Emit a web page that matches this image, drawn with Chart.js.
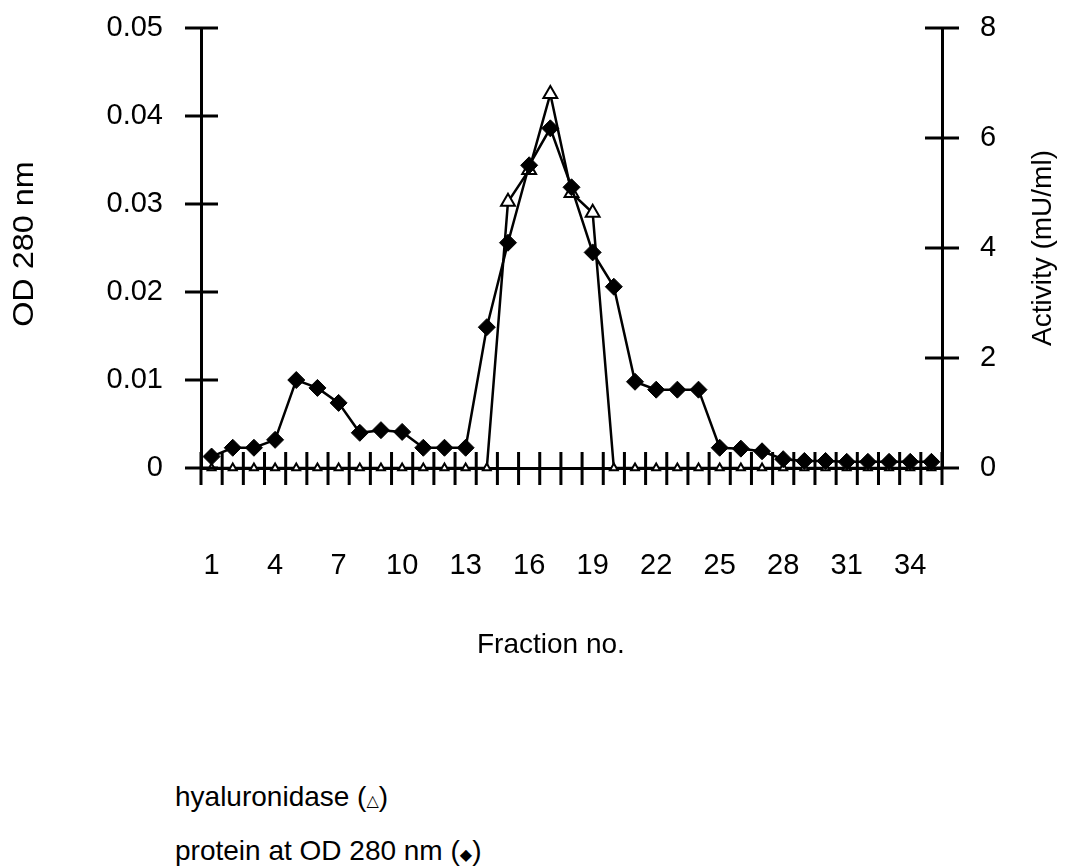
<!DOCTYPE html>
<html>
<head>
<meta charset="utf-8">
<script src="https://cdn.jsdelivr.net/npm/chart.js@4"></script>
<style>
  html, body { margin: 0; padding: 0; background: #fff; }
  #wrap { position: relative; width: 1080px; height: 868px; }
  #chart { position: absolute; left: 0; top: 0; }
  .legend { position: absolute; left: 175px; font-family: "Liberation Sans", Arial, sans-serif; font-size: 28px; line-height: 30px; color: #000; }
  .legend .sym { font-family: "DejaVu Sans", sans-serif; font-size: 16px; }
</style>
</head>
<body>
<div id="wrap">
  <canvas id="chart" width="1080" height="700"></canvas>
  <div class="legend" style="top:782px">hyaluronidase (<span class="sym">△</span>)</div>
  <div class="legend" style="top:836px">protein at OD 280 nm (<span class="sym">◆</span>)</div>
</div>
<script>
// fraction numbers (x categories)
const fractions = ["1", "2", "3", "4", "5", "6", "7", "8", "9", "10",
  "11", "12", "13", "14", "15", "16", "17", "18", "19", "20",
  "21", "22", "23", "24", "25", "26", "27", "28", "29", "30",
  "31", "32", "33", "34", "35"];

// protein, OD 280 nm (left axis)
const protein = [0.0013, 0.0023, 0.0023, 0.0032, 0.0100, 0.0091, 0.0074, 0.0040, 0.0043, 0.0041,
  0.0023, 0.0023, 0.0023, 0.0160, 0.0256, 0.0344, 0.0386, 0.0319, 0.0245, 0.0206,
  0.0098, 0.0089, 0.0089, 0.0089, 0.0023, 0.0022, 0.0019, 0.0010, 0.0008, 0.0008,
  0.0007, 0.0007, 0.0007, 0.0007, 0.0007];

// hyaluronidase activity, mU/ml (right axis)
const activity = [0, 0, 0, 0, 0, 0, 0, 0, 0, 0,
  0, 0, 0, 0, 4.84, 5.42, 6.8, 5.0, 4.64, 0,
  0, 0, 0, 0, 0, 0, 0, 0, 0, 0,
  0, 0, 0, 0, 0];

const odTicks = [0, 0.01, 0.02, 0.03, 0.04, 0.05];
const activityTicks = [0, 2, 4, 6, 8];

const FONT = "Liberation Sans, Arial, sans-serif";

// tick marks that cross the axis lines, plus the axis titles
const axisMarks = {
  id: "axisMarks",
  afterDraw(chart) {
    const { ctx, chartArea: a, scales } = chart;
    ctx.save();
    ctx.strokeStyle = "#000";
    ctx.lineWidth = 3;
    ctx.beginPath();
    const n = fractions.length;
    const step = (a.right - a.left) / n;
    for (let k = 0; k <= n; k++) {
      const x = a.left + k * step;
      ctx.moveTo(x, a.bottom - 16);
      ctx.lineTo(x, a.bottom + 17);
    }
    scales.y.ticks.forEach((t, i) => {
      const y = scales.y.getPixelForTick(i);
      ctx.moveTo(a.left - 16, y);
      ctx.lineTo(a.left + 17, y);
    });
    scales.y1.ticks.forEach((t, i) => {
      const y = scales.y1.getPixelForTick(i);
      ctx.moveTo(a.right - 17, y);
      ctx.lineTo(a.right + 17, y);
    });
    ctx.stroke();

    ctx.fillStyle = "#000";
    ctx.font = "28px " + FONT;
    ctx.textBaseline = "middle";
    ctx.textAlign = "left";
    ctx.fillText("Fraction no.", 477, 645);
    ctx.restore();

    ctx.save();
    ctx.fillStyle = "#000";
    ctx.font = "30px " + FONT;
    ctx.textBaseline = "middle";
    ctx.textAlign = "center";
    ctx.translate(25, 244);
    ctx.rotate(-Math.PI / 2);
    ctx.scale(1.08, 1);
    ctx.fillText("OD 280 nm", 0, 0);
    ctx.restore();

    ctx.save();
    ctx.fillStyle = "#000";
    ctx.font = "28px " + FONT;
    ctx.textBaseline = "middle";
    ctx.textAlign = "center";
    ctx.translate(1043, 248);
    ctx.rotate(-Math.PI / 2);
    ctx.fillText("Activity (mU/ml)", 0, 0);
    ctx.restore();
  },
};

// fixed axis widths; drop the label overflow so the plot top sits at 28px
const fitY = (w) => (s) => {
  s.width = w;
  s.paddingTop = 0;
  s.paddingBottom = 0;
};

new Chart(document.getElementById("chart"), {
  type: "line",
  data: {
    labels: fractions,
    datasets: [
      {
        label: "protein at OD 280 nm",
        data: protein,
        yAxisID: "y",
        borderColor: "#000",
        borderWidth: 2.5,
        backgroundColor: "#000",
        pointStyle: "rectRot",
        pointRadius: 8.5,
        pointBorderWidth: 1,
        tension: 0,
        clip: false,
      },
      {
        label: "hyaluronidase",
        data: activity,
        yAxisID: "y1",
        borderColor: "#000",
        borderWidth: 2.5,
        backgroundColor: "#fff",
        pointStyle: "triangle",
        pointRadius: (c) => (c.raw > 0 ? 8 : 4.5),
        pointBorderWidth: 2,
        tension: 0,
        clip: false,
      },
    ],
  },
  options: {
    responsive: false,
    animation: false,
    events: [],
    layout: { padding: { top: 28, left: 0, right: 0, bottom: 0 } },
    plugins: { legend: { display: false }, tooltip: { enabled: false } },
    scales: {
      x: {
        type: "category",
        offset: true,
        grid: { display: false, drawTicks: false },
        border: { display: true, color: "#000", width: 3 },
        ticks: {
          autoSkip: false,
          maxRotation: 0,
          padding: 81,
          color: "#000",
          font: { family: FONT, size: 29 },
          callback: (v, i) => (i % 3 === 0 ? fractions[i] : ""),
        },
        afterFit: (s) => { s.height = 232; },
      },
      y: {
        position: "left",
        min: 0,
        max: 0.05,
        grid: { display: false, drawTicks: false },
        border: { display: true, color: "#000", width: 3 },
        ticks: {
          padding: 38,
          color: "#000",
          font: { family: FONT, size: 29 },
          callback: (v) => (v === 0 ? "0" : v.toFixed(2)),
        },
        afterBuildTicks: (s) => { s.ticks = odTicks.map((v) => ({ value: v })); },
        afterFit: fitY(201),
      },
      y1: {
        position: "right",
        min: 0,
        max: 8,
        grid: { display: false, drawTicks: false },
        border: { display: true, color: "#000", width: 3 },
        ticks: {
          padding: 38,
          color: "#000",
          font: { family: FONT, size: 29 },
        },
        afterBuildTicks: (s) => { s.ticks = activityTicks.map((v) => ({ value: v })); },
        afterFit: fitY(138),
      },
    },
  },
  plugins: [axisMarks],
});
</script>
</body>
</html>
